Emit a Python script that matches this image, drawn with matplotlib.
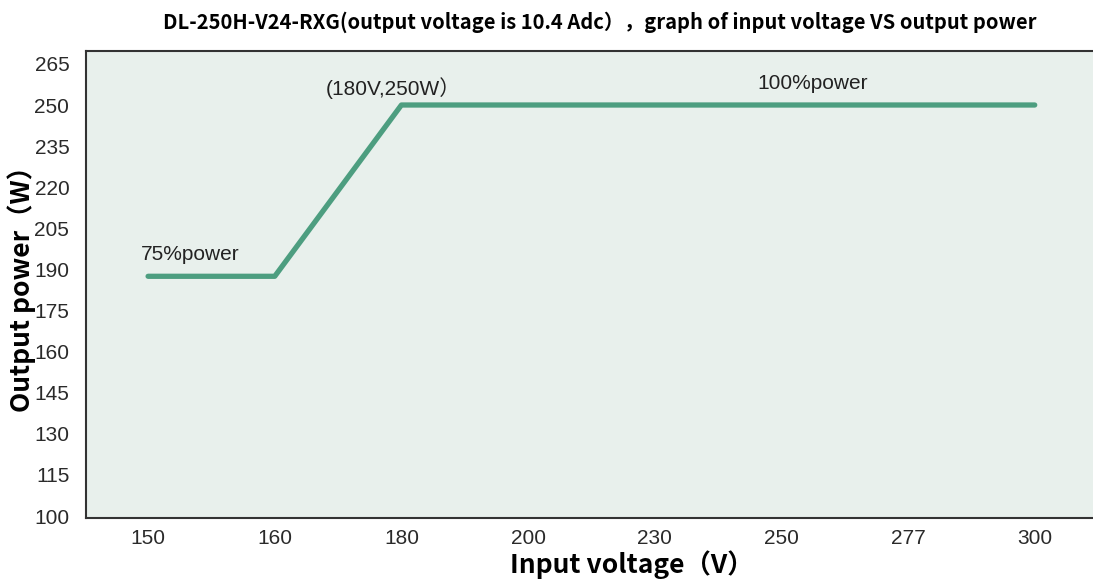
import matplotlib
matplotlib.use('Agg')
import matplotlib.pyplot as plt

# data
voltage_labels = ['150', '160', '180', '200', '230', '250', '277', '300']
power_w = [187.5, 187.5, 250, 250, 250, 250, 250, 250]
y_ticks = [100, 115, 130, 145, 160, 175, 190, 205, 220, 235, 250, 265]

plt.rcParams['font.family'] = ['Liberation Sans', 'Noto Sans CJK SC', 'DejaVu Sans']
cjk = ['Noto Sans CJK SC', 'DejaVu Sans']

fig = plt.figure(figsize=(10.93, 5.81), dpi=100)
ax = fig.add_axes([0.0787, 0.1084, 0.9213, 0.8038])
ax.set_facecolor('#e8f0ec')

x = list(range(len(voltage_labels)))
ax.plot(x, power_w, color='#4d9e80', linewidth=3.8, solid_capstyle='round')

ax.set_xlim(-0.49, 7.46)
ax.set_ylim(99.3, 269.7)
ax.set_xticks(x)
ax.set_xticklabels(voltage_labels)
ax.set_yticks(y_ticks)
ax.tick_params(length=0, labelsize=15, colors='#2a2a2a', pad=8)
ax.tick_params(axis='y', pad=12)

for s in ['top', 'left', 'bottom']:
    ax.spines[s].set_color('#333333')
    ax.spines[s].set_linewidth(1.5)
ax.spines['right'].set_visible(False)

ax.text(-0.06, 195.6, '75%power', fontsize=15, color='#222222', va='center')
ax.text(1.405, 256.3, '(180V,250W）', fontsize=15, color='#222222', va='center')
ax.text(4.81, 258.0, '100%power', fontsize=15, color='#222222', va='center')

fig.text(0.549, 0.962, 'DL-250H-V24-RXG(output voltage is 10.4 Adc），graph of input voltage VS output power',
         ha='center', va='center', fontsize=14.5, fontweight='bold', family=cjk)
fig.text(0.578, 0.028, 'Input voltage（V）', ha='center', va='center', fontsize=19,
         fontweight='bold', family=cjk)
fig.text(0.02, 0.513, 'Output power（W）', ha='center', va='center', fontsize=19,
         fontweight='bold', rotation=90, family=cjk)

fig.savefig('out.png', dpi=100)
